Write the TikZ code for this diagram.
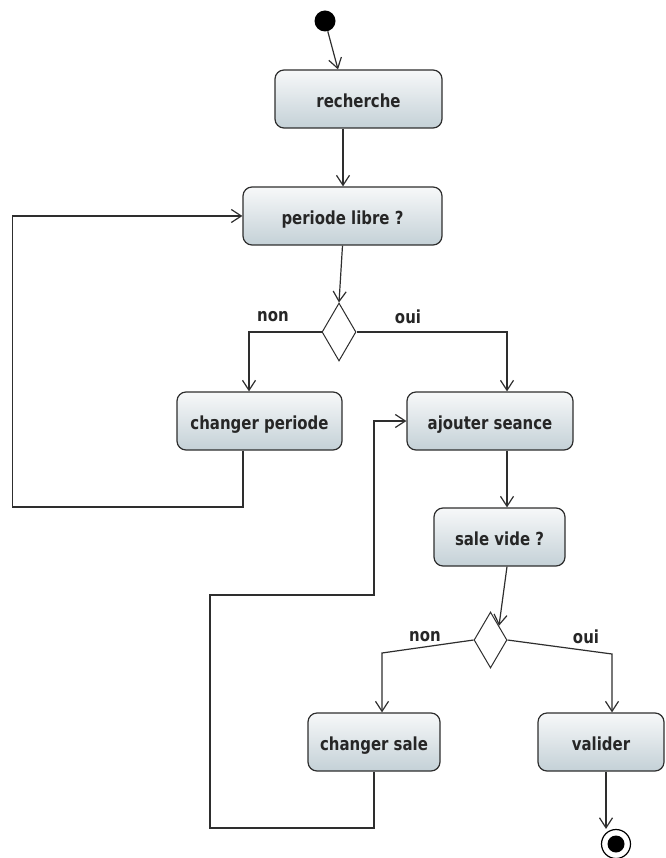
\documentclass[tikz,border=0pt]{standalone}
\usepackage{fontspec}
\setmainfont{DejaVu Sans}
\newfontfamily\actfont{DejaVu Sans}[FakeStretch=0.83]
\usetikzlibrary{arrows.meta,shapes.geometric}

\definecolor{edgegray}{HTML}{2E2E2E}
\definecolor{txtgray}{HTML}{262626}
\definecolor{fillhi}{HTML}{F7F8F9}
\definecolor{filllo}{HTML}{C4D1D7}

\begin{document}
\begin{tikzpicture}[x=1pt,y=-1pt,
  act/.style={draw=edgegray, line width=1.2pt, rounded corners=9pt,
    top color=fillhi, bottom color=filllo, minimum height=58pt,
    inner sep=0pt, text height=17pt, text depth=0pt,
    text=txtgray, font=\actfont\bfseries\fontsize{18}{21}\selectfont},
  choice/.style={diamond, draw=edgegray, line width=1pt, fill=white,
    inner sep=0pt, minimum width=34pt, minimum height=58pt},
  startdot/.style={circle, fill=black, inner sep=0pt, minimum size=21pt},
  endring/.style={circle, draw=black, line width=1.2pt, fill=white,
    inner sep=0pt, minimum size=29pt},
  endcore/.style={circle, fill=black, inner sep=0pt, minimum size=17pt},
  guard/.style={text=txtgray, font=\actfont\bfseries\fontsize{18}{21}\selectfont, inner sep=1pt},
  flow/.style={draw=edgegray, line width=1.2pt,
    -{Straight Barb[length=10pt,width=13pt,line width=1.2pt]}}]

\useasboundingbox (0,0) rectangle (665,858);

% activity nodes
\node[startdot] (init) at (325,21) {};
\node[act, minimum width=167pt] (rech) at (358.5,99) {recherche};
\node[act, minimum width=199pt] (per) at (342.5,216) {periode libre ?};
\node[choice] (d1) at (339,332) {};
\node[act, minimum width=165pt] (cp) at (259.5,421) {changer periode};
\node[act, minimum width=166pt] (aj) at (490,421) {ajouter seance};
\node[act, minimum width=131pt] (sv) at (499.5,537) {sale vide ?};
\node[choice, minimum width=33pt, minimum height=56pt] (d2) at (490.5,640) {};
\node[act, minimum width=132pt] (cs) at (374,742) {changer sale};
\node[act, minimum width=126pt] (val) at (601,742) {valider};
\node[endring] (fin) at (616,844) {};
\node[endcore] (fincore) at (616,844) {};

% guard labels
\node[guard] (g1n) at (273,317) {non};
\node[guard] (g1o) at (408,317) {oui};
\node[guard] (g2n) at (425,637) {non};
\node[guard] (g2o) at (586,637) {oui};

% bend points of the routed connectors
\coordinate (lp1) at (12.5,507);
\coordinate (lp2) at (210,828);
\coordinate (lp3) at (374,595);
\coordinate (n2) at (382,653);
\coordinate (o2) at (612,654);

% connectors
\draw[flow] (init) -- ([xshift=-20.5pt]rech.north);
\draw[flow] ([xshift=-15.5pt]rech.south) -- ([xshift=-15.5pt]rech.south |- per.north);
\draw[flow] (per.south) -- (d1.north);
\draw[flow] (d1.west) -| ([xshift=-10.5pt]cp.north);
\draw[flow] (d1.east) -| ([xshift=17pt]aj.north);
\draw[flow] ([xshift=-16.5pt]cp.south) |- (lp1) |- (per.west);
\draw[flow] ([xshift=17pt]aj.south) -- ([xshift=17pt]aj.south |- sv.north);
\draw[flow] ([xshift=7.5pt]sv.south) -- (d2.north east);
\draw[flow] (d2.west) -- (n2) -- (n2 |- cs.north);
\draw[flow] (d2.east) -- (o2) -- (o2 |- val.north);
\draw[flow] (cs.south) |- (lp2) |- (lp3) |- (aj.west);
\draw[flow] ([xshift=5pt]val.south) -- ([xshift=5pt]val.south |- fin.north);

\end{tikzpicture}
\end{document}
